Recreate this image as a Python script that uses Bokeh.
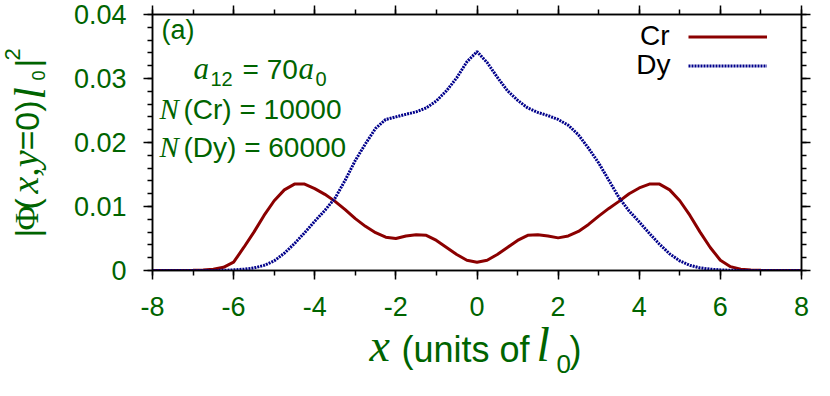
from bokeh.plotting import figure
from bokeh.models import LinearAxis, FixedTicker, Label, Legend, LegendItem, Range1d
from bokeh.embed import file_html
from bokeh.resources import INLINE

# ---------------- data ----------------
x_vals = [-8.0, -7.75, -7.5, -7.25, -7.0, -6.75, -6.5, -6.25, -6.0, -5.75, -5.5, -5.25,
          -5.0, -4.75, -4.5, -4.25, -4.0, -3.75, -3.5, -3.25, -3.0, -2.75, -2.5, -2.25,
          -2.0, -1.75, -1.5, -1.25, -1.0, -0.75, -0.5, -0.25, 0.0, 0.25, 0.5, 0.75,
          1.0, 1.25, 1.5, 1.75, 2.0, 2.25, 2.5, 2.75, 3.0, 3.25, 3.5, 3.75,
          4.0, 4.25, 4.5, 4.75, 5.0, 5.25, 5.5, 5.75, 6.0, 6.25, 6.5, 6.75,
          7.0, 7.25, 7.5, 7.75, 8.0]
cr_vals = [0.0, 0.0, 0.0, 0.00001, 0.00002, 0.00006, 0.0002, 0.0005, 0.0013, 0.0036, 0.0060, 0.0086,
           0.0109, 0.0126, 0.0135, 0.0135, 0.0128, 0.0119, 0.0108, 0.0095, 0.0081, 0.0069, 0.0059, 0.0052,
           0.0050, 0.0054, 0.0056, 0.0055, 0.0047, 0.0036, 0.0025, 0.0016, 0.0013, 0.0016, 0.0025, 0.0036,
           0.0047, 0.0055, 0.0056, 0.0054, 0.0051, 0.0054, 0.0061, 0.0072, 0.0085, 0.0097, 0.0108, 0.0120,
           0.0129, 0.0135, 0.0135, 0.0126, 0.0109, 0.0086, 0.0060, 0.0036, 0.0016, 0.0006, 0.0002, 0.00006,
           0.00002, 0.00001, 0.0, 0.0, 0.0]
dy_vals = [0.0, 0.0, 0.0, 0.0, 0.0, 0.0, 0.00001, 0.00003, 0.0001, 0.0002, 0.0004, 0.0008,
           0.0015, 0.0027, 0.0042, 0.0059, 0.0077, 0.0094, 0.0113, 0.0141, 0.0172, 0.0198, 0.0222, 0.0236,
           0.0240, 0.0244, 0.0248, 0.0254, 0.0265, 0.0281, 0.0301, 0.0326, 0.0342, 0.0325, 0.0302, 0.0281,
           0.0266, 0.0254, 0.0247, 0.0242, 0.0236, 0.0227, 0.0212, 0.0191, 0.0168, 0.0141, 0.0114, 0.0093,
           0.0076, 0.0058, 0.0041, 0.0026, 0.0015, 0.0008, 0.0004, 0.0002, 0.0001, 0.00003, 0.00001, 0.0,
           0.0, 0.0, 0.0, 0.0, 0.0]
series_names = ["Cr", "Dy"]
series_colors = ["#8b0000", "#00008b"]

x_ticks = [-8, -6, -4, -2, 0, 2, 4, 6, 8]
x_tick_labels = ["-8", "-6", "-4", "-2", "0", "2", "4", "6", "8"]
x_minor = [-8, -7, -6, -5, -4, -3, -2, -1, 0, 1, 2, 3, 4, 5, 6, 7, 8]
y_ticks = [0, 0.01, 0.02, 0.03, 0.04]
y_tick_labels = ["0", "0.01", "0.02", "0.03", "0.04"]
y_minor = [0, 0.002, 0.004, 0.006, 0.008, 0.01, 0.012, 0.014, 0.016, 0.018, 0.02,
           0.022, 0.024, 0.026, 0.028, 0.03, 0.032, 0.034, 0.036, 0.038, 0.04]

# ---------------- style ----------------
GREEN = "#006400"
SANS = "Liberation Sans"
SERIF = "Liberation Serif"

p = figure(frame_width=649, frame_height=256,
           x_range=Range1d(-8, 8), y_range=Range1d(0, 0.04),
           output_backend="svg", toolbar_location=None,
           min_border_left=152, min_border_right=21, min_border_top=14, min_border_bottom=118,
           background_fill_color="white", border_fill_color="white")
p.grid.visible = False
p.outline_line_color = "black"
p.outline_line_width = 1.5


def style_axis(ax, ticks, minor, labels, show_labels, tick_out, minor_out, standoff):
    ax.ticker = FixedTicker(ticks=ticks, minor_ticks=minor)
    ax.axis_line_color = "black"
    ax.axis_line_width = 1.5
    ax.major_tick_line_color = "black"
    ax.major_tick_line_width = 1.5
    ax.minor_tick_line_color = "black"
    ax.minor_tick_line_width = 1.5
    ax.major_tick_in = 0
    ax.major_tick_out = tick_out
    ax.minor_tick_in = 0
    ax.minor_tick_out = minor_out
    if show_labels:
        ax.major_label_overrides = {t: l for t, l in zip(ticks, labels)}
        ax.major_label_text_font = SANS
        ax.major_label_text_font_size = "27px"
        ax.major_label_text_color = GREEN
        ax.major_label_standoff = standoff
    else:
        ax.major_label_overrides = {t: "" for t in ticks}
        ax.major_label_text_font_size = "1px"
        ax.major_label_standoff = 0


style_axis(p.xaxis[0], x_ticks, x_minor, x_tick_labels, True, 9, 5, 17)
style_axis(p.yaxis[0], y_ticks, y_minor, y_tick_labels, True, 9, 5, 17)
top_ax = LinearAxis()
style_axis(top_ax, x_ticks, x_minor, x_tick_labels, False, 9, 5, 0)
p.add_layout(top_ax, "above")
right_ax = LinearAxis()
style_axis(right_ax, y_ticks, y_minor, y_tick_labels, False, 9, 5, 0)
p.add_layout(right_ax, "right")

r_cr = p.line(x_vals, cr_vals, line_color=series_colors[0], line_width=3)
r_dy = p.line(x_vals, dy_vals, line_color=series_colors[1], line_width=3, line_dash="2 1")

FL, FB = 152, 270  # frame left / bottom in canvas pixels
legend = Legend(items=[LegendItem(label=" ", renderers=[r_cr]),
                       LegendItem(label=" ", renderers=[r_dy])],
                location=(688 - FL, FB - 80), orientation="vertical",
                glyph_width=79, glyph_height=29, label_height=29, label_width=0,
                label_standoff=0, padding=0, margin=0, spacing=0,
                border_line_alpha=0, background_fill_alpha=0,
                label_text_font_size="1px")
p.add_layout(legend)

BASE_SHIFT = 0.4  # compensation (in em) so that (px, py) is the glyph baseline


def lab(text, px, py, size, font=SANS, style="normal", color=GREEN, angle=0.0,
        align="left", place="center"):
    # px, py: canvas pixels (origin top-left) of the text baseline start
    if angle:
        px = px - BASE_SHIFT * size
    else:
        py = py - BASE_SHIFT * size
    p.add_layout(Label(x=px, y=py, x_units="canvas", y_units="canvas",
                       text=text, text_font=font, text_font_size=f"{size}px",
                       text_font_style=style, text_color=color, angle=angle,
                       text_align=align, text_baseline="alphabetic"), place)


# legend texts (right aligned, left of samples)
lab(series_names[0], 669, 46, 28, color="black", align="right")
lab(series_names[1], 670, 75, 28, color="black", align="right")

# annotations in panel
lab("(a)", 161, 40, 27)
lab("a", 193, 80, 31, font=SERIF, style="italic")
lab("12", 210, 86, 20)
lab("= 70", 242, 80, 28)
lab("a", 298, 80, 31, font=SERIF, style="italic")
lab("0", 315, 86, 20)
lab("N", 159, 120, 29, font=SERIF, style="italic")
lab("(Cr) = 10000", 183, 120, 28)
lab("N", 159, 158, 29, font=SERIF, style="italic")
lab("(Dy) = 60000", 183, 158, 28)

# axis titles live in the bottom side panel (not clipped to the frame);
# their positions are absolute canvas pixels.
B = "below"
# x axis title: x (units of l0)
lab("x", 369, 363, 46, font=SERIF, style="italic", place=B)
lab("(units of", 401, 363, 36, place=B)
lab("l", 536, 363, 48, font=SERIF, style="italic", place=B)
lab("0", 556, 374, 26, place=B)
lab(")", 569, 363, 36, place=B)

# y axis title: |Phi(x,y=0) l0|^2  (rotated, reads bottom to top)
A = 1.5707963267948966
lab("|", 40, 237, 34, angle=A, place=B)
lab("\u03a6", 40, 230, 34, font=SERIF, angle=A, place=B)
lab("(", 40, 209, 34, angle=A, place=B)
lab("x,y", 40, 193, 38, font=SERIF, style="italic", angle=A, place=B)
lab("=0)", 40, 150, 34, angle=A, place=B)
lab("l", 48, 99, 44, font=SERIF, style="italic", angle=A, place=B)
lab("0", 45, 80, 18, angle=A, place=B)
lab("|", 40, 67, 34, angle=A, place=B)
lab("2", 21, 60, 22, angle=A, place=B)

open("out.html", "w").write(file_html(p, INLINE))
